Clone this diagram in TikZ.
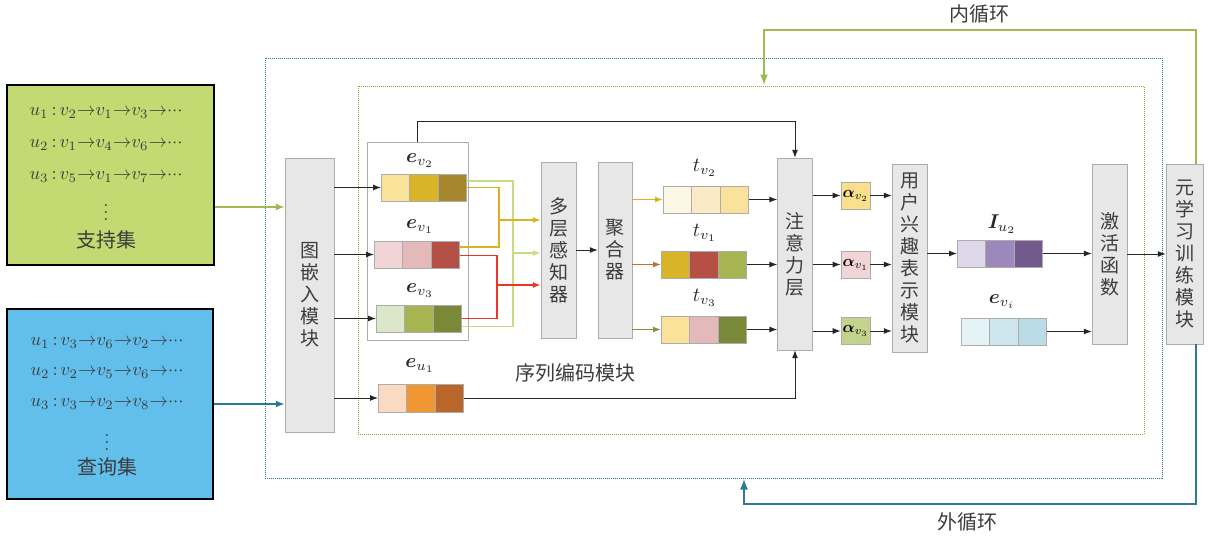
\documentclass[tikz,border=0pt]{standalone}
\usepackage{amsmath,bm}
\usepackage{fontspec}
\newfontfamily\cjk{Noto Sans CJK SC}
\usetikzlibrary{arrows.meta,positioning}

\definecolor{boxfill}{RGB}{231,231,231}
\definecolor{boxline}{RGB}{172,172,172}
\definecolor{txtgray}{RGB}{60,60,60}
\definecolor{suppfill}{RGB}{195,218,115}
\definecolor{queryfill}{RGB}{98,190,235}
\definecolor{innerc}{RGB}{160,186,82}
\definecolor{innerdot}{RGB}{150,160,60}
\definecolor{outerc}{RGB}{42,122,150}
\definecolor{linkyellow}{RGB}{220,176,30}
\definecolor{linkred}{RGB}{236,52,40}
\definecolor{linkgreen}{RGB}{196,222,128}
\definecolor{linkbrown}{RGB}{192,112,50}
\definecolor{linkolive}{RGB}{132,142,72}
% cell colours
\definecolor{cpaleyellow}{RGB}{250,226,155}
\definecolor{cgold}{RGB}{218,180,40}
\definecolor{cdarkgold}{RGB}{166,135,45}
\definecolor{cpalepink}{RGB}{240,212,214}
\definecolor{cpink}{RGB}{228,185,186}
\definecolor{cbrick}{RGB}{181,80,70}
\definecolor{cpalegreen}{RGB}{220,230,200}
\definecolor{colive}{RGB}{166,181,82}
\definecolor{cdarkolive}{RGB}{122,137,55}
\definecolor{cpeach}{RGB}{250,218,195}
\definecolor{corange}{RGB}{240,150,50}
\definecolor{crust}{RGB}{186,102,40}
\definecolor{ccream}{RGB}{253,247,230}
\definecolor{clightcream}{RGB}{250,235,198}
\definecolor{clavender}{RGB}{222,216,234}
\definecolor{cpurple}{RGB}{156,136,186}
\definecolor{cdarkpurple}{RGB}{115,90,140}
\definecolor{cice}{RGB}{230,243,246}
\definecolor{clightblue}{RGB}{206,230,238}
\definecolor{cskyblue}{RGB}{186,220,230}
\definecolor{calphay}{RGB}{250,224,140}
\definecolor{calphag}{RGB}{195,210,140}

\newcommand{\seqto}{\mathrel{\mkern-5mu\to\mkern-5mu}}
\newcommand{\seqdots}{{\cdot}{\cdot}{\cdot}}
\newcommand{\seqcolon}{\,{:}\,}

\begin{document}
\begin{tikzpicture}[x=1pt,y=-1pt]
\tikzset{
  setbox/.style={draw=black,line width=1.3pt,inner sep=0pt},
  settext/.style={text=txtgray,scale=1.85,inner sep=0pt},
  setname/.style={text=txtgray,font=\cjk\fontsize{20}{22}\selectfont,inner sep=0pt},
  modbox/.style={draw=boxline,fill=boxfill,align=center,inner sep=0pt,text=txtgray,font=\cjk\fontsize{19}{22}\selectfont},
  cell/.style={draw=boxline,minimum width=28.5pt,minimum height=27.5pt,inner sep=0pt,outer sep=0pt},
  alphabox/.style={draw=boxline,scale=1.6,minimum width=18.1pt,minimum height=16.9pt,inner sep=0pt},
  vlabel/.style={inner sep=0pt,scale=2,text=black!85},
  flow/.style={-{Latex[length=8pt,width=6pt]},line width=1pt,draw=black!85},
  link/.style={line width=1.6pt},
  looparrow/.style={-{Latex[length=11pt,width=8pt]},line width=2pt},
  looplabel/.style={text=txtgray,font=\cjk\fontsize{20}{22}\selectfont,inner sep=0pt}
}
\useasboundingbox (0,0) rectangle (1208,538);

% dotted frames
\node[draw=outerc,densely dotted,line width=1pt,minimum width=897pt,minimum height=420pt,inner sep=0pt] (outerbox) at (713.5,268) {};
\node[draw=innerdot,densely dotted,line width=1pt,minimum width=786pt,minimum height=348pt,inner sep=0pt] (innerbox) at (751,260) {};
\node[looplabel] (seqlab) at (575,373) {序列编码模块};

% support and query sets
\node[setbox,fill=suppfill,minimum width=207pt,minimum height=180pt] (support) at (110.5,175) {};
\node[settext] (s1) at (106,113) {$u_1\seqcolon v_2\seqto v_1\seqto v_3\seqto\seqdots$};
\node[settext] (s2) at (106,145) {$u_2\seqcolon v_1\seqto v_4\seqto v_6\seqto\seqdots$};
\node[settext] (s3) at (106,177) {$u_3\seqcolon v_5\seqto v_1\seqto v_7\seqto\seqdots$};
\node[settext] (sdots) at (106,207) {$\vdots$};
\node[setname] (sname) at (106,240) {支持集};

\node[setbox,fill=queryfill,minimum width=206pt,minimum height=190pt] (query) at (110,404) {};
\node[settext] (q1) at (107,343) {$u_1\seqcolon v_3\seqto v_6\seqto v_2\seqto\seqdots$};
\node[settext] (q2) at (107,373) {$u_2\seqcolon v_2\seqto v_5\seqto v_6\seqto\seqdots$};
\node[settext] (q3) at (107,404) {$u_3\seqcolon v_3\seqto v_2\seqto v_8\seqto\seqdots$};
\node[settext] (qdots) at (107,437) {$\vdots$};
\node[setname] (qname) at (107,467) {查询集};

% modules
\node[modbox,minimum width=49pt,minimum height=274pt] (embed) at (309.5,295) {图\\嵌\\入\\模\\块};
\node[draw=boxline,fill=white,minimum width=101pt,minimum height=198pt] (egroup) at (417.5,241) {};
\node[modbox,minimum width=35pt,minimum height=176pt] (mlp) at (558.5,250) {多\\层\\感\\知\\器};
\node[modbox,minimum width=34pt,minimum height=176pt] (agg) at (615,250) {聚\\合\\器};
\node[modbox,minimum width=35pt,minimum height=192pt] (att) at (795,254) {注\\意\\力\\层};
\node[modbox,minimum width=35pt,minimum height=188pt] (ui) at (909.5,258) {用\\户\\兴\\趣\\表\\示\\模\\块};
\node[modbox,minimum width=35pt,minimum height=180pt] (act) at (1109.5,254) {激\\活\\函\\数};
\node[modbox,minimum width=37pt,minimum height=180pt] (meta) at (1184.5,254) {元\\学\\习\\训\\练\\模\\块};

% embedding bars
\node[vlabel] (ev2-lab) at (420,161) {$\bm{e}_{v_2}$};
\node[cell,fill=cpaleyellow] (ev2-1) at (395.25,187.5) {};
\node[cell,fill=cgold,right=0pt of ev2-1] (ev2-2) {};
\node[cell,fill=cdarkgold,right=0pt of ev2-2] (ev2-3) {};
\node[vlabel] (ev1-lab) at (420,227) {$\bm{e}_{v_1}$};
\node[cell,fill=cpalepink] (ev1-1) at (388.25,254.5) {};
\node[cell,fill=cpink,right=0pt of ev1-1] (ev1-2) {};
\node[cell,fill=cbrick,right=0pt of ev1-2] (ev1-3) {};
\node[vlabel] (ev3-lab) at (420,291) {$\bm{e}_{v_3}$};
\node[cell,fill=cpalegreen] (ev3-1) at (390.25,318.5) {};
\node[cell,fill=colive,right=0pt of ev3-1] (ev3-2) {};
\node[cell,fill=cdarkolive,right=0pt of ev3-2] (ev3-3) {};
\node[vlabel] (eu1-lab) at (420,366) {$\bm{e}_{u_1}$};
\node[cell,fill=cpeach] (eu1-1) at (392.25,398) {};
\node[cell,fill=corange,right=0pt of eu1-1] (eu1-2) {};
\node[cell,fill=crust,right=0pt of eu1-2] (eu1-3) {};

% aggregated bars
\node[vlabel] (tv2-lab) at (705,168) {$t_{v_2}$};
\node[cell,fill=ccream] (tv2-1) at (677.25,199.5) {};
\node[cell,fill=clightcream,right=0pt of tv2-1] (tv2-2) {};
\node[cell,fill=cpaleyellow,right=0pt of tv2-2] (tv2-3) {};
\node[vlabel] (tv1-lab) at (705,233) {$t_{v_1}$};
\node[cell,fill=cgold] (tv1-1) at (675.25,264.5) {};
\node[cell,fill=cbrick,right=0pt of tv1-1] (tv1-2) {};
\node[cell,fill=colive,right=0pt of tv1-2] (tv1-3) {};
\node[vlabel] (tv3-lab) at (705,298) {$t_{v_3}$};
\node[cell,fill=cpaleyellow] (tv3-1) at (675.25,329.5) {};
\node[cell,fill=cpink,right=0pt of tv3-1] (tv3-2) {};
\node[cell,fill=cdarkolive,right=0pt of tv3-2] (tv3-3) {};

% attention weights
\node[alphabox,fill=calphay] (av2) at (855.5,195.5) {$\bm{\alpha}_{v_2}$};
\node[alphabox,fill=cpalepink] (av1) at (855.5,264.5) {$\bm{\alpha}_{v_1}$};
\node[alphabox,fill=calphag] (av3) at (855.5,331) {$\bm{\alpha}_{v_3}$};

% interest and item bars
\node[vlabel] (iu2-lab) at (1002,224) {$\bm{I}_{u_2}$};
\node[cell,fill=clavender] (iu2-1) at (971.25,253.5) {};
\node[cell,fill=cpurple,right=0pt of iu2-1] (iu2-2) {};
\node[cell,fill=cdarkpurple,right=0pt of iu2-2] (iu2-3) {};
\node[vlabel] (evi-lab) at (1002,302) {$\bm{e}_{v_i}$};
\node[cell,fill=cice] (evi-1) at (975.25,331.5) {};
\node[cell,fill=clightblue,right=0pt of evi-1] (evi-2) {};
\node[cell,fill=cskyblue,right=0pt of evi-2] (evi-3) {};

% inputs
\coordinate (supp-out) at ([yshift=-32pt]support.east);
\draw[flow,draw=innerc,line width=1.6pt,-{Latex[length=9pt,width=7pt]}] (supp-out) -- (supp-out -| embed.west);
\draw[flow,draw=outerc,line width=1.6pt,-{Latex[length=9pt,width=7pt]}] (query.east) -- (query.east -| embed.west);

\draw[flow] (ev2-1.west -| embed.east) -- (ev2-1.west);
\draw[flow] (ev1-1.west -| embed.east) -- (ev1-1.west);
\draw[flow] (ev3-1.west -| embed.east) -- (ev3-1.west);
\draw[flow] (eu1-1.west -| embed.east) -- (eu1-1.west);

% pairwise links into the perceptron
\coordinate (gjoin) at (513,253);
\coordinate (yjoin) at (499,220);
\coordinate (rjoin) at (497,285);
\draw[link,linkgreen] ([yshift=6.5pt]ev2-3.east) -| (gjoin) |- ([yshift=-8pt]ev3-3.east);
\draw[link,linkyellow] (ev2-3.east) -| (yjoin) |- ([yshift=7.5pt]ev1-3.east);
\draw[link,linkred] ([yshift=-1pt]ev1-3.east) -| (rjoin) |- (ev3-3.east);
\draw[flow,linkgreen,line width=1.6pt] (gjoin) -- (gjoin -| mlp.west);
\draw[flow,linkyellow,line width=1.6pt] (yjoin) -- (yjoin -| mlp.west);
\draw[flow,linkred,line width=1.6pt] (rjoin) -- (rjoin -| mlp.west);

\draw[flow] (mlp.east) -- (agg.west);
\draw[flow,linkyellow,line width=1.4pt] (tv2-1.west -| agg.east) -- (tv2-1.west);
\draw[flow,linkbrown,line width=1.4pt] (tv1-1.west -| agg.east) -- (tv1-1.west);
\draw[flow,linkolive,line width=1.4pt] (tv3-1.west -| agg.east) -- (tv3-1.west);

\draw[flow] (tv2-3.east) -- (tv2-3.east -| att.west);
\draw[flow] (tv1-3.east) -- (tv1-3.east -| att.west);
\draw[flow] (tv3-3.east) -- (tv3-3.east -| att.west);
\draw[flow] (egroup.north) -- ++(0,-20) -| (att.north);
\draw[flow] (eu1-3.east) -| (att.south);

\draw[flow] (av2.west -| att.east) -- (av2.west);
\draw[flow] (av1.west -| att.east) -- (av1.west);
\draw[flow] (av3.west -| att.east) -- (av3.west);
\draw[flow] (av2.east) -- (av2.east -| ui.west);
\draw[flow] (av1.east) -- (av1.east -| ui.west);
\draw[flow] (av3.east) -- (av3.east -| ui.west);

\draw[flow] (iu2-1.west -| ui.east) -- (iu2-1.west);
\draw[flow] (iu2-3.east) -- (iu2-3.east -| act.west);
\draw[flow] (evi-3.east) -- (evi-3.east -| act.west);
\draw[flow] (act.east) -- (meta.west);

% loops
\coordinate (innerturn) at (1196,30);
\coordinate (innerleft) at (764,30);
\draw[looparrow,innerc] (meta.north -| innerturn) -- (innerturn) -- (innerleft) -- (innerleft |- innerbox.north);
\node[looplabel] (innerlab) at (979,14) {内循环};
\coordinate (outerturn) at (1196,504);
\coordinate (outerleft) at (744,504);
\draw[looparrow,outerc] (meta.south -| outerturn) -- (outerturn) -- (outerleft) -- (outerleft |- outerbox.south);
\node[looplabel] (outerlab) at (967,522) {外循环};
\end{tikzpicture}
\end{document}
